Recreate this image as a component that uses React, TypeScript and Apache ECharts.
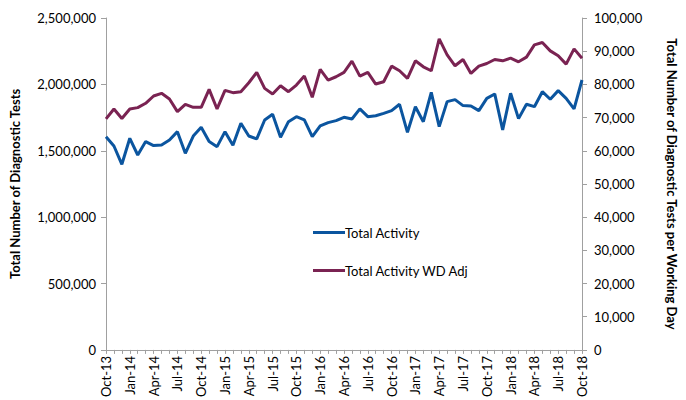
import React, { useEffect, useRef } from "react";
import * as echarts from "echarts";

const months: string[] = [];
const monthNames = ["Jan", "Feb", "Mar", "Apr", "May", "Jun", "Jul", "Aug", "Sep", "Oct", "Nov", "Dec"];
for (let i = 0; i < 61; i++) {
  const m = (9 + i) % 12;
  const y = 13 + Math.floor((9 + i) / 12);
  months.push(`${monthNames[m]}-${y}`);
}

const totalActivity = [
  1606000, 1536000, 1398000, 1594000, 1468000, 1569000, 1539000, 1544000, 1581000, 1644000,
  1481000, 1611000, 1677000, 1569000, 1531000, 1644000, 1541000, 1707000, 1611000, 1589000,
  1732000, 1775000, 1601000, 1719000, 1757000, 1732000, 1606000, 1687000, 1712000, 1727000,
  1752000, 1739000, 1815000, 1757000, 1764000, 1782000, 1802000, 1850000, 1639000, 1832000,
  1719000, 1940000, 1682000, 1870000, 1885000, 1840000, 1837000, 1802000, 1895000, 1928000,
  1657000, 1933000, 1742000, 1850000, 1832000, 1945000, 1888000, 1953000, 1895000, 1815000,
  2033000,
];

const totalActivityWdAdj = [
  69600, 72600, 69700, 72600, 73000, 74300, 76500, 77300, 75600, 71800,
  74000, 73100, 73100, 78500, 72600, 78200, 77500, 77800, 80500, 83600,
  78800, 77100, 79600, 77800, 79800, 82500, 76100, 84500, 81300, 82300,
  83600, 87000, 82500, 83600, 80100, 80800, 85500, 84100, 81800, 87100,
  85300, 84100, 93700, 88900, 85600, 87500, 83300, 85500, 86300, 87500,
  87100, 87900, 86800, 88200, 91900, 92600, 90100, 88600, 86100, 90700,
  87900,
];

const BLUE = "#0b559f";
const RED = "#7a2352";
const AXIS = "#a0a0a0";
const FONT = "Lato, 'Liberation Sans', sans-serif";

export default function App() {
  const ref = useRef<HTMLDivElement>(null);
  useEffect(() => {
    if (!ref.current) return;
    const chart = echarts.init(ref.current, undefined, { renderer: "svg" });
    const fmt = (v: number) => v.toLocaleString("en-US");
    chart.setOption({
      animation: false,
      textStyle: { fontFamily: FONT },
      grid: { left: 106, right: 91, top: 18, bottom: 50 },
      legend: {
        orient: "vertical",
        left: 308,
        top: 221,
        itemGap: 25,
        itemWidth: 32,
        itemHeight: 3,
        icon: "rect",
        textStyle: { fontFamily: FONT, fontSize: 13, color: "#000", padding: [0, 0, 0, -5] },
        data: ["Total Activity", "Total Activity WD Adj"],
      },
      xAxis: {
        type: "category",
        data: months,
        boundaryGap: false,
        axisLine: { lineStyle: { color: AXIS, width: 1 } },
        axisTick: { show: true, interval: 0, length: 4, lineStyle: { color: AXIS } },
        axisLabel: {
          interval: 2,
          rotate: 90,
          fontSize: 13,
          color: "#000",
          fontFamily: FONT,
          margin: 6,
        },
        splitLine: { show: false },
      },
      yAxis: [
        {
          type: "value",
          min: 0,
          max: 2500000,
          interval: 500000,
          position: "left",
          name: "Total Number of Diagnostic Tests",
          nameLocation: "middle",
          nameGap: 85,
          nameTextStyle: { fontFamily: FONT, fontSize: 13, fontWeight: "bold", color: "#000" },
          axisLine: { show: true, lineStyle: { color: AXIS } },
          axisTick: { show: true, length: 5, lineStyle: { color: AXIS } },
          axisLabel: { formatter: fmt, fontSize: 13, color: "#000", fontFamily: FONT, margin: 10 },
          splitLine: { show: false },
        },
        {
          type: "value",
          min: 0,
          max: 100000,
          interval: 10000,
          position: "right",
          name: "Total Number of Diagnostic Tests per Working Day",
          nameLocation: "middle",
          nameRotate: -90,
          nameGap: 83,
          nameTextStyle: { fontFamily: FONT, fontSize: 13, fontWeight: "bold", color: "#000" },
          axisLine: { show: true, lineStyle: { color: AXIS } },
          axisTick: { show: true, length: 5, lineStyle: { color: AXIS } },
          axisLabel: { formatter: fmt, fontSize: 13, color: "#000", fontFamily: FONT, margin: 12 },
          splitLine: { show: false },
        },
      ],
      series: [
        {
          name: "Total Activity",
          type: "line",
          yAxisIndex: 0,
          data: totalActivity,
          symbol: "none",
          lineStyle: { color: BLUE, width: 3 },
          itemStyle: { color: BLUE },
        },
        {
          name: "Total Activity WD Adj",
          type: "line",
          yAxisIndex: 1,
          data: totalActivityWdAdj,
          symbol: "none",
          lineStyle: { color: RED, width: 3 },
          itemStyle: { color: RED },
        },
      ],
    });
    return () => chart.dispose();
  }, []);
  return (
    <div
      ref={ref}
      style={{ position: "fixed", left: 0, top: 0, width: 686, height: 400, background: "#fff" }}
    />
  );
}
